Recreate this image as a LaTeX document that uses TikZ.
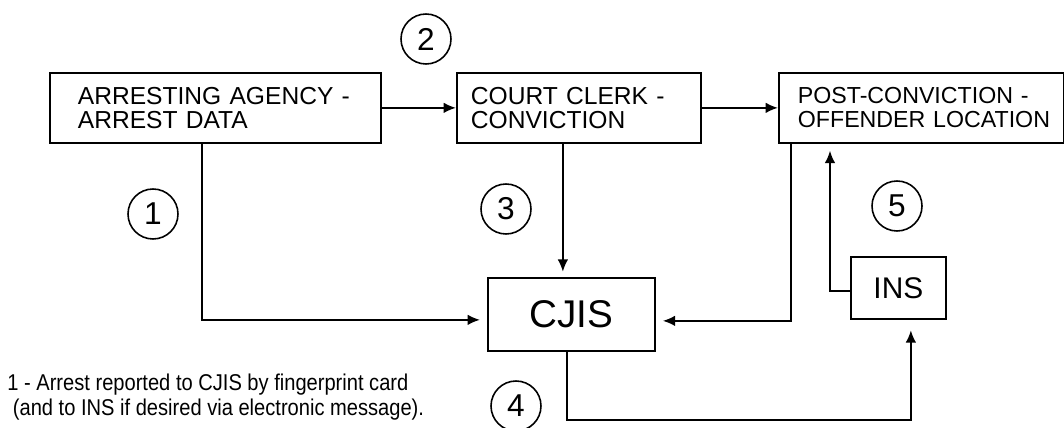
\documentclass[tikz,border=0pt]{standalone}
\usepackage{fontspec}
\setmainfont{Liberation Sans}
\newfontfamily\notefont[FakeStretch=0.88]{Liberation Sans}
\usetikzlibrary{arrows.meta,positioning,calc}
\tikzstyle{a}=[anchor=north west]
\tikzstyle{box}=[a,draw,rectangle,line width=1pt]
\tikzstyle{stage}=[box,align=left,minimum height=1.4cm,inner ysep=0pt,font=\fontsize{14}{13.5}\selectfont]
\tikzstyle{big}=[box,inner sep=0pt]
\tikzstyle{num}=[draw,circle,line width=0.9pt,minimum size=1cm,inner sep=0pt,font=\fontsize{18}{18}\selectfont]
\tikzstyle{note}=[a,align=left,inner sep=0pt,font=\notefont\fontsize{13}{14.2}\selectfont]
\tikzstyle{arrow}=[draw,line width=1pt,-{Latex[length=7pt,width=6pt]}]

\begin{document}
\begin{tikzpicture}[x=0.02cm,y=-0.02cm]
    \useasboundingbox (0,0) rectangle (1064,428);

    \node[stage,text width=5.5cm,inner xsep=0.56cm] at (49,72) (arrest) {ARRESTING AGENCY -\\ARREST DATA};
    \node[stage,text width=4.32cm,inner xsep=0.28cm] at (456,72) (clerk) {COURT CLERK -\\CONVICTION};
    \node[stage,text width=4.94cm,inner xsep=0.38cm,font=\fontsize{13.2}{13.5}\selectfont] at (778,72) (post) {\mbox{POST-CONVICTION -}\\\mbox{OFFENDER LOCATION}};

    \node[big,minimum width=3.34cm,minimum height=1.46cm,font=\fontsize{22}{22}\selectfont] at (487,277) (cjis) {CJIS};
    \node[big,minimum width=1.9cm,minimum height=1.24cm,font=\fontsize{17}{17}\selectfont] at (850,256) (ins) {INS};

    \node[num] at (153,214) (n1) {1};
    \node[num] at (426,39) (n2) {2};
    \node[num] at (506,209) (n3) {3};
    \node[num] at (516,406) (n4) {4};
    \node[num] at (897,206) (n5) {5};

    \draw[arrow] (arrest) -- (clerk);
    \draw[arrow] (clerk) -- (post);
    \draw[arrow,shorten >=4pt] ([xshift=-0.27cm]arrest.south) |- ([yshift=-0.11cm]cjis.west);
    \draw[arrow,shorten >=3pt] ([xshift=-0.32cm]clerk.south) -- ([xshift=-0.32cm]clerk.south |- cjis.north);
    \draw[arrow,shorten >=4pt] ([xshift=0.26cm]post.south west) |- ([yshift=-0.13cm]cjis.east);
    \draw[arrow,shorten >=4pt] ([yshift=-0.06cm]ins.west) -| ([xshift=1.04cm]post.south west);
    \draw[arrow,shorten >=6pt] ([xshift=-0.09cm]cjis.south) -- ++(0,68) -| ([xshift=0.25cm]ins.south);

    \node[note] at (7,374) (legend) {1 - Arrest reported to CJIS by fingerprint card\\\ (and to INS if desired via electronic message).};
\end{tikzpicture}
\end{document}
